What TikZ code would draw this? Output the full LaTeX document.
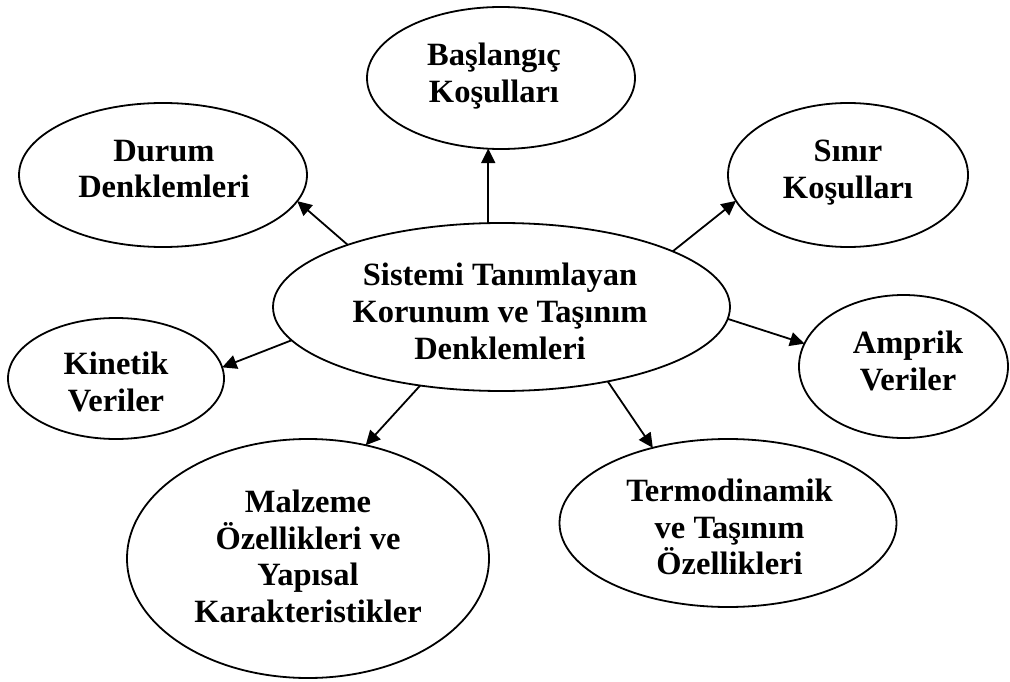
\documentclass[tikz,border=0pt]{standalone}
\usepackage{fontspec}
\setmainfont{Liberation Serif}
\usetikzlibrary{shapes.geometric,arrows.meta}
\begin{document}
\begin{tikzpicture}[x=1pt,y=-1pt,
  ell/.style={ellipse, draw, line width=1.8pt, inner sep=0pt, outer sep=0pt},
  lbl/.style={anchor=north, inner sep=0pt, align=center,
              font=\bfseries\fontsize{32.5}{36.7}\selectfont},
  arr/.style={line width=1.8pt, -{Triangle[length=14.5pt,width=14pt]}}]
\useasboundingbox (0,0) rectangle (1010,682);
% ellipses
\node[ell, minimum width=457pt, minimum height=168pt] (c) at (501.5,307) {};
\node[ell, minimum width=268pt, minimum height=142pt] (b) at (501,78) {};
\node[ell, minimum width=288pt, minimum height=144pt] (d) at (163,175) {};
\node[ell, minimum width=240pt, minimum height=144pt] (s) at (848,175) {};
\node[ell, minimum width=216pt, minimum height=121pt] (k) at (116,378.5) {};
\node[ell, minimum width=209pt, minimum height=143pt] (a) at (903.5,366.5) {};
\node[ell, minimum width=362pt, minimum height=239pt] (m) at (308,558.5) {};
\node[ell, minimum width=337pt, minimum height=168pt] (t) at (728,523) {};
% texts
\node[lbl] (ct) at (500,263) {Sistemi Tanımlayan\\Korunum ve Taşınım\\Denklemleri};
\node[lbl] (bt) at (494,43) {Başlangıç\\Koşulları};
\node[lbl] (dt) at (164,139.7) {Durum\\Denklemleri};
\node[lbl] (st) at (848,139.6) {Sınır\\Koşulları};
\node[lbl] (kt) at (116,352) {Kinetik\\Veriler};
\node[lbl] (at) at (908,331) {Amprik\\Veriler};
\node[lbl] (mt) at (308,489.8) {Malzeme\\Özellikleri ve\\Yapısal\\Karakteristikler};
\node[lbl] (tt) at (729.5,478.6) {Termodinamik\\ve Taşınım\\Özellikleri};
% connectors
\draw[arr] (c.99.15) -- (c.99.15 |- b.259.6);
\draw[arr] (c.158.9) -- (d.-11);
\draw[arr] (c.18.6) -- (s.-167.8);
\draw[arr] (c.-3) -- (a.167.5);
\draw[arr] (c.189.1) -- (k.6.1);
\draw[arr] (c.224.8) -- (m.63.5);
\draw[arr] (c.-35.2) -- (t.135.8);
\end{tikzpicture}
\end{document}
